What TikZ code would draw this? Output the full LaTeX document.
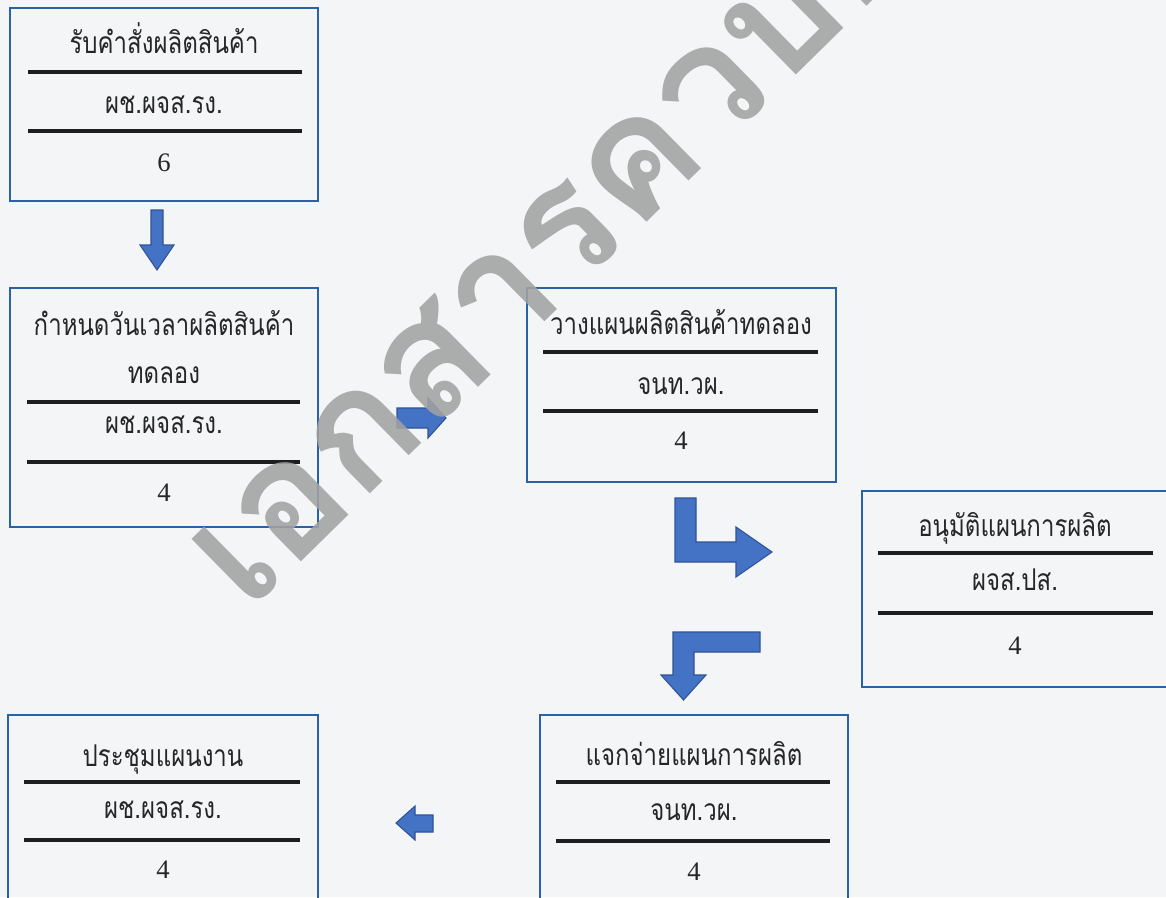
\documentclass[tikz,border=0pt]{standalone}
\usepackage{fontspec}
\setmainfont{Liberation Serif}
\newfontfamily\thaifont[Script=Thai]{Loma}
\newfontfamily\thaibox[Script=Thai, FakeStretch=0.8]{Loma}
\definecolor{paper}{HTML}{F4F5F7}
\definecolor{boxblue}{HTML}{2A62A8}
\definecolor{arrfill}{HTML}{4472C4}
\definecolor{arrline}{HTML}{2F5496}
\definecolor{rulec}{HTML}{1E1E1E}
\definecolor{wmark}{HTML}{A2A2A2}
\usetikzlibrary{fit}
\tikzset{
  x=0.75pt, y=-0.75pt,
  box/.style={draw=boxblue, line width=1.6pt, inner sep=0pt},
  tt/.style={font=\thaibox\fontsize{22.5}{24}\selectfont, anchor=base, inner sep=0pt, text=black!85},
  num/.style={font=\fontsize{20}{22}\selectfont, anchor=base, inner sep=0pt, text=black!85},
  rl/.style={draw=rulec, line width=2.6pt},
  barrow/.style={fill=arrfill, draw=arrline, line width=0.8pt, line join=miter},
}
\begin{document}
\begin{tikzpicture}
\fill[paper] (0,0) rectangle (1166,897);
\useasboundingbox (0,0) rectangle (1166,897);

% Box 1
\coordinate (b1nw) at (10,8); \coordinate (b1se) at (318,201);
\node[box, fit=(b1nw)(b1se)] (b1) {};
\node[tt] (b1a) at (164,53) {รับคำสั่งผลิตสินค้า};
\node[tt] (b1b) at (164,113) {ผช.ผจส.รง.};
\node[num] (b1c) at (164,171) {6};
\draw[rl] (28,72) -- (302,72);
\draw[rl] (28,131) -- (302,131);

% Box 2
\coordinate (b2nw) at (10,288); \coordinate (b2se) at (318,527);
\node[box, fit=(b2nw)(b2se)] (b2) {};
\node[tt] (b2a) at (164,335) {กำหนดวันเวลาผลิตสินค้า};
\node[tt] (b2b) at (164,383) {ทดลอง};
\node[tt] (b2c) at (164,433) {ผช.ผจส.รง.};
\node[num] (b2d) at (164,501) {4};
\draw[rl] (27,402) -- (300,402);
\draw[rl] (27,462) -- (300,462);

% Box 3
\coordinate (b3nw) at (527,288); \coordinate (b3se) at (836,482);
\node[box, fit=(b3nw)(b3se)] (b3) {};
\node[tt] (b3a) at (681,334) {วางแผนผลิตสินค้าทดลอง};
\node[tt] (b3b) at (681,394) {จนท.วผ.};
\node[num] (b3c) at (681,449) {4};
\draw[rl] (543,352) -- (818,352);
\draw[rl] (543,411) -- (818,411);

% Box 4
\coordinate (b4nw) at (862,491); \coordinate (b4se) at (1172,687);
\node[box, fit=(b4nw)(b4se)] (b4) {};
\node[tt] (b4a) at (1015,536) {อนุมัติแผนการผลิต};
\node[tt] (b4b) at (1015,590) {ผจส.ปส.};
\node[num] (b4c) at (1015,654) {4};
\draw[rl] (878,553) -- (1153,553);
\draw[rl] (878,613) -- (1153,613);

% Box 5
\coordinate (b5nw) at (540,715); \coordinate (b5se) at (848,905);
\node[box, fit=(b5nw)(b5se)] (b5) {};
\node[tt] (b5a) at (694,765) {แจกจ่ายแผนการผลิต};
\node[tt] (b5b) at (694,820) {จนท.วผ.};
\node[num] (b5c) at (694,880) {4};
\draw[rl] (556,782) -- (830,782);
\draw[rl] (556,841) -- (830,841);

% Box 6
\coordinate (b6nw) at (8,715); \coordinate (b6se) at (318,905);
\node[box, fit=(b6nw)(b6se)] (b6) {};
\node[tt] (b6a) at (163,766) {ประชุมแผนงาน};
\node[tt] (b6b) at (163,818) {ผช.ผจส.รง.};
\node[num] (b6c) at (163,878) {4};
\draw[rl] (24,782) -- (300,782);
\draw[rl] (24,840) -- (300,840);

% Block arrows
\draw[barrow] (151,210) -- (163,210) -- (163,245) -- (174,245) -- (157,270) -- (140,245) -- (151,245) -- cycle;
\draw[barrow] (397,408) -- (428,408) -- (428,398) -- (446,418) -- (428,438) -- (428,428) -- (397,428) -- cycle;
\draw[barrow] (675,498) -- (696,498) -- (696,542) -- (736,542) -- (736,527) -- (772,552) -- (736,577) -- (736,562) -- (675,562) -- cycle;
\draw[barrow] (760,632) -- (760,652) -- (694,652) -- (694,675) -- (706,675) -- (683.5,700) -- (661,675) -- (673,675) -- (673,632) -- cycle;
\draw[barrow] (433,815) -- (433,832) -- (415,832) -- (415,840) -- (396,823) -- (415,806) -- (415,815) -- cycle;

% Watermark
\node[font=\thaifont\bfseries\fontsize{124}{124}\selectfont, text=wmark, text opacity=0.88,
      rotate=44.5, anchor=base west, inner sep=0pt] (wm) at (248,614) {เอกสารควบคุม};
\end{tikzpicture}
\end{document}
